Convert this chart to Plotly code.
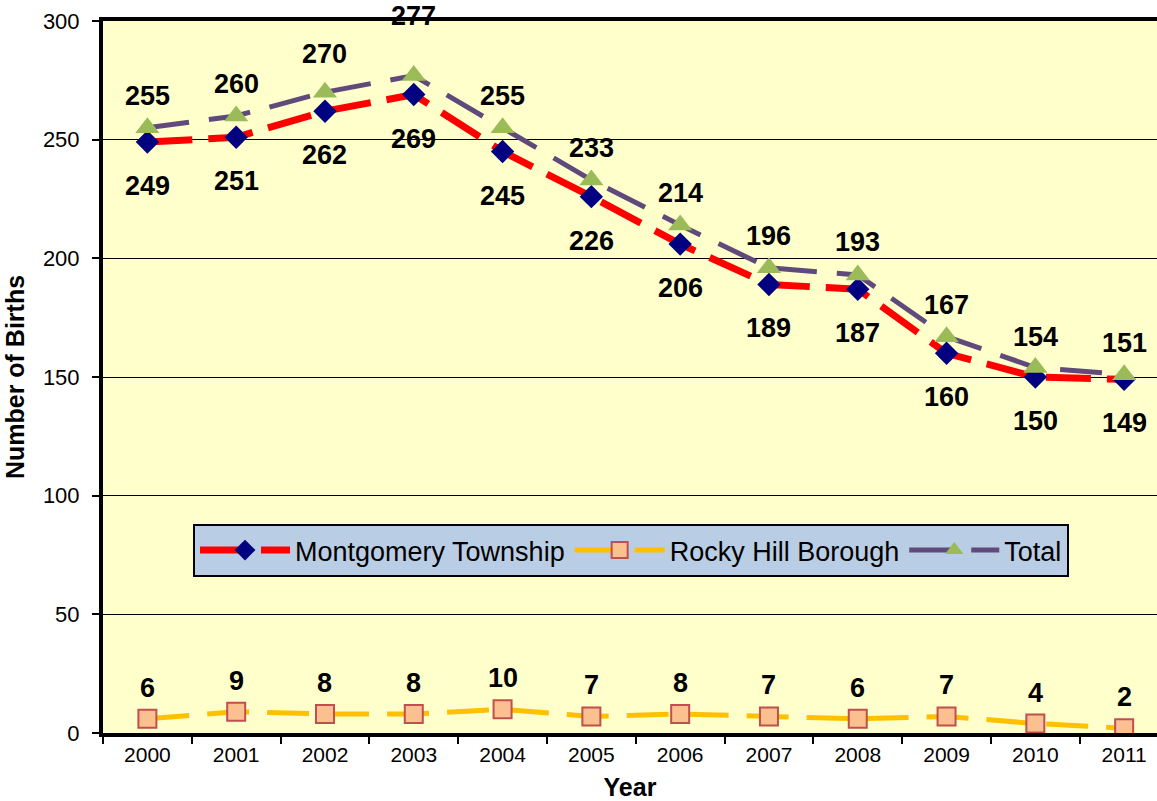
import plotly.graph_objects as go

years = ["2000", "2001", "2002", "2003", "2004", "2005", "2006", "2007", "2008", "2009", "2010", "2011"]
montgomery = [249, 251, 262, 269, 245, 226, 206, 189, 187, 160, 150, 149]
rocky_hill = [6, 9, 8, 8, 10, 7, 8, 7, 6, 7, 4, 2]
total = [255, 260, 270, 277, 255, 233, 214, 196, 193, 167, 154, 151]

# label offsets in pixels (layout only)
total_label_lift = [32, 32, 38, 60, 32, 32, 32, 32, 33, 32, 31, 32]
mont_label_drop = 44
rocky_label_lift = 31

FONT = "Arial, Liberation Sans, sans-serif"

fig = go.Figure()
fig.add_trace(go.Scatter(
    x=years, y=montgomery, name="Montgomery Township", mode="lines+markers",
    line=dict(color="#FF0000", width=7, dash="45px,16px"),
    marker=dict(symbol="diamond", size=18, color="#000080", line=dict(width=0)),
))
fig.add_trace(go.Scatter(
    x=years, y=rocky_hill, name="Rocky Hill Borough", mode="lines+markers",
    line=dict(color="#FFC000", width=5, dash="42px,18px"),
    marker=dict(symbol="square", size=18, color="#FAC090", line=dict(width=2, color="#C0504D")),
))
fig.add_trace(go.Scatter(
    x=years, y=total, name="Total", mode="lines+markers",
    line=dict(color="#604A7B", width=5, dash="42px,20px"),
    marker=dict(symbol="triangle-up", size=21, color="#9BBB59", line=dict(width=0)),
))

annotations = []
for i, yr in enumerate(years):
    annotations.append(dict(x=i, y=montgomery[i], xref="x", yref="y", text="<b>%d</b>" % montgomery[i],
                            showarrow=False, yshift=-mont_label_drop,
                            font=dict(family=FONT, size=27, color="black")))
    annotations.append(dict(x=i, y=total[i], xref="x", yref="y", text="<b>%d</b>" % total[i],
                            showarrow=False, yshift=total_label_lift[i],
                            font=dict(family=FONT, size=27, color="black")))
    annotations.append(dict(x=i, y=rocky_hill[i], xref="x", yref="y", text="<b>%d</b>" % rocky_hill[i],
                            showarrow=False, yshift=rocky_label_lift,
                            font=dict(family=FONT, size=27, color="black")))

fig.update_layout(
    width=1157, height=801,
    margin=dict(l=103, r=0, t=21, b=68),
    paper_bgcolor="white",
    plot_bgcolor="#FFFFCC",
    font=dict(family=FONT, color="black"),
    annotations=annotations,
    showlegend=True,
    legend=dict(
        orientation="h", x=0.0854, y=0.2935, xanchor="left", yanchor="top",
        bgcolor="#B9CDE5", bordercolor="black", borderwidth=2,
        font=dict(family=FONT, size=27, color="black"),
        itemwidth=90,
    ),
)

fig.update_xaxes(
    type="category", range=[-0.5, 11.37],
    showline=True, linewidth=4, linecolor="black", mirror=True,
    ticks="outside", tickson="boundaries", ticklen=7, tickwidth=2, tickcolor="black",
    tickfont=dict(family=FONT, size=21, color="black"),
    showgrid=False,
    title=dict(text="<b>Year</b>", font=dict(family=FONT, size=25, color="black"), standoff=16),
)
fig.update_yaxes(
    range=[0, 300], dtick=50,
    showline=True, linewidth=4, linecolor="black",
    ticks="outside", ticklen=7, tickwidth=2, tickcolor="black",
    tickfont=dict(family=FONT, size=22, color="black"),
    ticklabelstandoff=8,
    showgrid=True, gridcolor="black", gridwidth=1, zeroline=False,
    title=dict(text="<b>Number of Births</b>", font=dict(family=FONT, size=25, color="black"), standoff=12),
)

fig.write_html("out.html", config={"displayModeBar": False},
               post_script="document.body.style.margin='0';document.body.style.overflow='hidden';")
